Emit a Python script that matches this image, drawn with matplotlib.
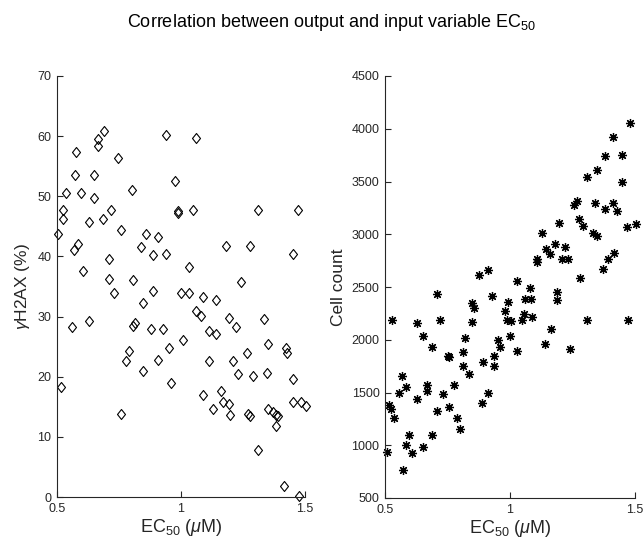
import matplotlib
matplotlib.use("Agg")
import matplotlib.pyplot as plt

plt.rcParams['font.family'] = ['Liberation Sans', 'DejaVu Sans']
plt.rcParams['mathtext.fontset'] = 'custom'
plt.rcParams['mathtext.rm'] = 'Liberation Sans'
plt.rcParams['mathtext.it'] = 'Liberation Sans:italic'

# left panel: EC50 vs gamma-H2AX
ec50_left = [0.505, 0.526, 0.526, 0.536, 0.573, 0.575, 0.569, 0.586, 0.595, 0.606,
             0.629, 0.649, 0.649, 0.665, 0.667, 0.688, 0.687, 0.719, 0.708, 0.708,
             0.731, 0.746, 0.757, 0.801, 0.805, 0.837, 0.859, 0.848, 0.886, 0.886,
             0.907, 0.940, 0.940, 0.976, 0.988, 0.988, 0.999, 1.032, 1.034, 1.047,
             1.059, 1.059, 1.090, 1.140, 1.183, 1.241, 1.278, 1.312, 1.450, 1.472,
             0.517, 0.559, 0.629, 0.757, 0.778, 0.789, 0.805, 0.816, 0.848, 0.881,
             0.907, 0.929, 0.952, 0.961, 1.009, 1.079, 1.114, 1.140, 1.114, 1.090,
             1.129, 1.160, 1.171, 1.194, 1.198, 1.194, 1.221, 1.209, 1.231, 1.265,
             1.272, 1.278, 1.292, 1.311, 1.335, 1.349, 1.347, 1.349, 1.370, 1.383,
             1.391, 1.383, 1.423, 1.429, 1.415, 1.452, 1.450, 1.474, 1.482, 1.504]
h2ax = [43.8, 47.8, 46.3, 50.6, 53.5, 57.3, 41.0, 42.0, 50.6, 37.5,
        45.7, 53.5, 49.7, 59.5, 58.3, 60.8, 46.2, 47.7, 39.5, 36.2,
        34.0, 56.4, 44.4, 51.1, 36.0, 41.6, 43.8, 32.2, 34.2, 40.2,
        43.3, 40.4, 60.2, 52.6, 47.5, 47.3, 34.0, 38.2, 34.0, 47.7,
        59.7, 30.9, 33.3, 32.7, 41.8, 35.8, 41.8, 47.7, 40.4, 47.7,
        18.3, 28.2, 29.2, 13.8, 22.6, 24.3, 28.4, 28.9, 20.9, 27.9,
        22.8, 27.9, 24.7, 19.0, 26.1, 30.1, 27.6, 27.1, 22.6, 16.9,
        14.7, 17.6, 15.8, 15.4, 13.7, 29.8, 28.3, 22.6, 20.5, 23.9,
        13.8, 13.5, 20.2, 7.8, 29.6, 25.4, 20.7, 14.6, 14.2, 13.7,
        13.4, 11.8, 24.8, 24.0, 1.8, 19.6, 15.8, 0.2, 15.8, 15.1]

# right panel: EC50 vs cell count
ec50_right = [0.707, 0.847, 0.856, 0.877, 0.912, 0.928, 0.991, 1.027, 1.060, 1.085,
              1.081, 0.980, 1.107, 1.107, 1.128, 1.144, 1.160, 1.179, 1.197, 1.189,
              1.189, 1.208, 1.221, 1.233, 1.257, 1.269, 1.277, 1.291, 1.279, 1.309,
              1.340, 1.333, 1.347, 1.347, 1.371, 1.380, 1.379, 1.392, 1.416, 1.412,
              1.413, 1.427, 1.449, 1.449, 1.469, 1.480, 1.503,
              0.527, 0.509, 0.517, 0.525, 0.537, 0.557, 0.567, 0.583, 0.571, 0.585,
              0.596, 0.607, 0.627, 0.629, 0.651, 0.651, 0.667, 0.667, 0.687, 0.687,
              0.708, 0.720, 0.731, 0.752, 0.757, 0.755, 0.777, 0.787, 0.800, 0.811,
              0.811, 0.820, 0.837, 0.848, 0.891, 0.889, 0.912, 0.936, 0.936, 0.951,
              0.960, 0.989, 1.004, 1.001, 1.029, 1.047, 1.057, 1.087, 1.140, 1.164,
              1.240, 1.309, 1.473]
cell_count = [2437, 2345, 2300, 2613, 2657, 2415, 2357, 2556, 2390, 2387,
              2494, 2275, 2770, 2739, 3009, 2858, 2811, 2912, 3110, 2456,
              2375, 2770, 2883, 2770, 3277, 3314, 3148, 3078, 2582, 3538,
              3299, 3016, 2984, 3613, 2670, 3739, 3236, 2770, 2821, 3921,
              3292, 3220, 3748, 3500, 3072, 4053, 3094,
              2189, 937, 1377, 1346, 1261, 1497, 1660, 1553, 767, 1000,
              1094, 924, 2157, 1440, 2031, 987, 1575, 1512, 1928, 1094,
              1324, 2189, 1484, 1849, 1836, 1365, 1575, 1261, 1157, 1880,
              1755, 2016, 1679, 2164, 1786, 1396, 1497, 1843, 1748, 2000,
              1928, 2189, 2173, 2031, 1890, 2189, 2245, 2220, 1962, 2101,
              1912, 2189, 2189]

x_ticks = [0.5, 1, 1.5]
x_ticklabels = ['0.5', '1', '1.5']
left_yticks = list(range(0, 71, 10))
right_yticks = list(range(500, 4501, 500))

grey = '#262626'
diamond = [(-0.8, 0), (0, 1), (0.8, 0), (0, -1), (-0.8, 0)]

fig = plt.figure(figsize=(6.44, 5.5), dpi=100)
ax1 = fig.add_axes([57/644, 53/550, 248/644, 421/550])
ax2 = fig.add_axes([385/644, 52/550, 250/644, 422/550])

ax1.plot(ec50_left, h2ax, linestyle='none', marker=diamond, markersize=7.2,
         markerfacecolor='none', markeredgecolor='black', markeredgewidth=0.8,
         clip_on=False)
ax2.plot(ec50_right, cell_count, linestyle='none', marker=(8, 2, 0), markersize=6.5,
         color='black', markeredgewidth=0.9, clip_on=False)

for ax, yt in ((ax1, left_yticks), (ax2, right_yticks)):
    ax.set_xlim(0.5, 1.5)
    ax.set_ylim(yt[0], yt[-1])
    ax.set_xticks(x_ticks)
    ax.set_xticklabels(x_ticklabels)
    ax.set_yticks(yt)
    for s in ('top', 'right'):
        ax.spines[s].set_visible(False)
    for s in ('left', 'bottom'):
        ax.spines[s].set_color(grey)
        ax.spines[s].set_linewidth(0.8)
    ax.tick_params(direction='in', length=4, width=0.8, colors=grey,
                   labelsize=9, pad=4)
    ax.set_xlabel('EC$_{50}$ ($\\mu$M)', fontsize=13, color=grey, labelpad=2)

ax1.set_ylabel('$\\gamma$H2AX (%)', fontsize=12.5, color=grey, labelpad=4)
ax2.set_ylabel('Cell count', fontsize=12.5, color=grey, labelpad=4)

fig.text(0.515, 0.951, 'Correlation between output and input variable EC$_{50}$',
         ha='center', va='baseline', fontsize=13, color='black')

fig.savefig('out.png', dpi=100)
